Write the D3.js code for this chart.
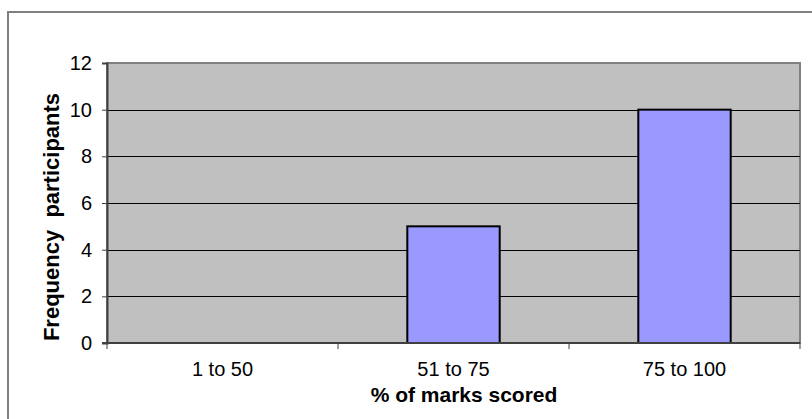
<!DOCTYPE html>
<html>
<head>
<meta charset="utf-8">
<script src="https://cdn.jsdelivr.net/npm/d3@7"></script>
<style>
  html, body { margin: 0; padding: 0; background: #fff; }
  svg { display: block; font-family: Arial, "Liberation Sans", sans-serif; }
</style>
</head>
<body>
<svg id="chart" width="812" height="419"></svg>
<script>
// Score bands and how many participants fell in each
const categories = ["1 to 50", "51 to 75", "75 to 100"];
const frequencies = [0, 5, 10];
const yTicks = [0, 2, 4, 6, 8, 10, 12];
const xTitle = "% of marks scored";
const yTitle = "Frequency\u00a0\u00a0participants";

const svg = d3.select("#chart");
const plot = { left: 107, right: 800, top: 63, bottom: 343 };

// outer chart frame
svg.append("rect")
  .attr("x", 8).attr("y", 12)
  .attr("width", 830).attr("height", 430)
  .attr("fill", "#fff")
  .attr("stroke", "#808080").attr("stroke-width", 2);

const x = d3.scaleBand()
  .domain(categories)
  .range([plot.left, plot.right])
  .paddingInner(0.6)
  .paddingOuter(0.3);

const y = d3.scaleLinear()
  .domain([0, 12])
  .range([plot.bottom, plot.top]);

// plot area background
svg.append("rect")
  .attr("x", plot.left).attr("y", plot.top)
  .attr("width", plot.right - plot.left)
  .attr("height", plot.bottom - plot.top)
  .attr("fill", "#C0C0C0")
  .attr("stroke", "#808080").attr("stroke-width", 2);

// horizontal gridlines
svg.append("g")
  .selectAll("line")
  .data(yTicks.filter(d => d > 0 && d < 12))
  .join("line")
  .attr("x1", plot.left).attr("x2", plot.right)
  .attr("y1", d => Math.round(y(d)) + 0.5)
  .attr("y2", d => Math.round(y(d)) + 0.5)
  .attr("stroke", "#000").attr("stroke-width", 1);

// bars
svg.append("g")
  .selectAll("rect")
  .data(categories.map((c, i) => ({ c, v: frequencies[i] })).filter(d => d.v > 0))
  .join("rect")
  .attr("x", d => x(d.c))
  .attr("y", d => y(d.v))
  .attr("width", x.bandwidth())
  .attr("height", d => y(0) - y(d.v))
  .attr("fill", "#9999FF")
  .attr("stroke", "#000").attr("stroke-width", 2);

// y axis
const yAxis = svg.append("g")
  .attr("transform", `translate(${plot.left},0)`)
  .call(d3.axisLeft(y).tickValues(yTicks).tickSize(5).tickPadding(10).tickFormat(d3.format("d")));
yAxis.select(".domain").attr("stroke", "#404040").attr("stroke-width", 2);
yAxis.selectAll(".tick line").attr("stroke", "#404040");
yAxis.selectAll(".tick text")
  .attr("font-size", 20).attr("fill", "#000")
  .attr("font-family", "Arial, 'Liberation Sans', sans-serif");

// x axis: ticks on category boundaries
const xAxisG = svg.append("g")
  .attr("transform", `translate(0,${plot.bottom})`);
xAxisG.append("line")
  .attr("x1", plot.left - 5).attr("x2", plot.right)
  .attr("stroke", "#404040").attr("stroke-width", 2);
const step = x.step();
const boundaries = d3.range(categories.length + 1).map(i => plot.left + i * step);
xAxisG.selectAll(".bound")
  .data(boundaries)
  .join("line")
  .attr("class", "bound")
  .attr("x1", d => d).attr("x2", d => d)
  .attr("y1", 0).attr("y2", 6)
  .attr("stroke", "#404040").attr("stroke-width", 1);
xAxisG.selectAll(".lbl")
  .data(categories)
  .join("text")
  .attr("class", "lbl")
  .attr("x", d => x(d) + x.bandwidth() / 2)
  .attr("y", 33)
  .attr("text-anchor", "middle")
  .attr("font-size", 20)
  .attr("fill", "#000")
  .text(d => d);

// axis titles
svg.append("text")
  .attr("x", 464).attr("y", 402)
  .attr("text-anchor", "middle")
  .attr("font-size", 21).attr("font-weight", "bold")
  .text(xTitle);

svg.append("text")
  .attr("transform", "translate(59,217) rotate(-90)")
  .attr("text-anchor", "middle")
  .attr("font-size", 22).attr("font-weight", "bold")
  .text(yTitle);
</script>
</body>
</html>
